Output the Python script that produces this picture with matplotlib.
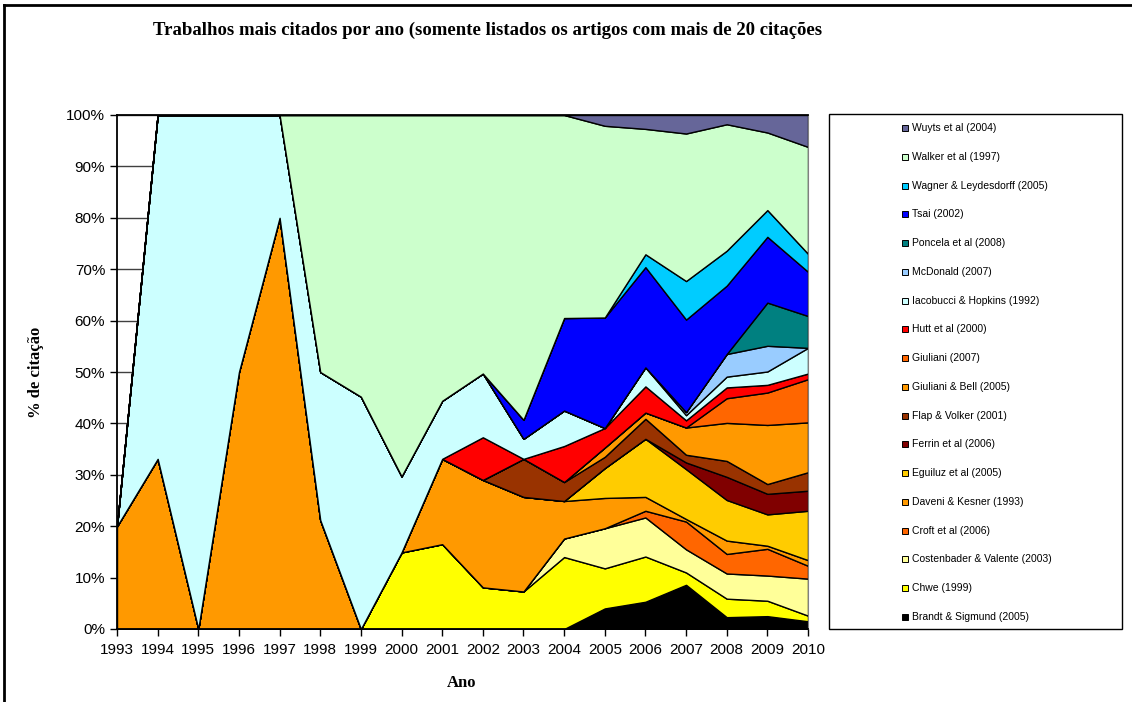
import matplotlib
matplotlib.use("Agg")
import matplotlib.pyplot as plt
from matplotlib.patches import Rectangle
from matplotlib.lines import Line2D

# years on the x axis
years = list(range(1993, 2011))

# share of citations per work (%), stacked bottom -> top
brandt      = [0, 0, 0, 0, 0, 0, 0, 0, 0, 0, 0, 0, 4.0, 5.3, 8.6, 2.3, 2.5, 1.5]
chwe        = [0, 0, 0, 0, 0, 0, 0, 14.9, 16.5, 8.1, 7.3, 14.0, 7.8, 8.8, 2.4, 3.6, 3.0, 1.1]
costenbader = [0, 0, 0, 0, 0, 0, 0, 0, 0, 0, 0, 3.6, 7.8, 7.6, 4.5, 4.9, 4.9, 7.2]
croft       = [0, 0, 0, 0, 0, 0, 0, 0, 0, 0, 0, 0, 0, 1.3, 5.4, 3.8, 5.2, 2.5]
daveni      = [20, 33.1, 0, 50, 80, 21.2, 0, 0, 16.6, 20.9, 18.4, 7.3, 5.9, 2.7, 0.5, 2.6, 0.6, 1.1]
eguiluz     = [0, 0, 0, 0, 0, 0, 0, 0, 0, 0, 0, 0, 5.8, 11.3, 9.7, 7.9, 6.1, 9.6]
ferrin      = [0, 0, 0, 0, 0, 0, 0, 0, 0, 0, 0, 0, 0, 0, 1.3, 4.5, 4.0, 3.9]
flap        = [0, 0, 0, 0, 0, 0, 0, 0, 0, 0, 7.4, 3.7, 2.2, 3.9, 1.5, 3.1, 1.9, 3.6]
giuliani_bell = [0, 0, 0, 0, 0, 0, 0, 0, 0, 0, 0, 0, 1.8, 1.2, 5.3, 7.4, 11.5, 9.7]
giuliani    = [0, 0, 0, 0, 0, 0, 0, 0, 0, 0, 0, 0, 0, 0, 0, 4.8, 6.3, 8.4]
hutt        = [0, 0, 0, 0, 0, 0, 0, 0, 0, 8.3, 0, 7.0, 3.8, 5.1, 1.4, 2.1, 1.5, 1.1]
iacobucci   = [0, 66.9, 100, 50, 20, 28.8, 45.2, 14.8, 11.3, 12.4, 3.9, 6.9, 0, 3.7, 1.0, 2.1, 2.6, 5.0]
mcdonald    = [0, 0, 0, 0, 0, 0, 0, 0, 0, 0, 0, 0, 0, 0, 0.6, 4.4, 5.0, 0]
poncela     = [0, 0, 0, 0, 0, 0, 0, 0, 0, 0, 0, 0, 0, 0, 0, 0, 8.4, 6.2]
tsai        = [0, 0, 0, 0, 0, 0, 0, 0, 0, 0, 3.7, 18.0, 21.5, 19.5, 18.0, 13.3, 12.8, 8.6]
wagner      = [0, 0, 0, 0, 0, 0, 0, 0, 0, 0, 0, 0, 0, 2.5, 7.5, 6.8, 5.2, 3.5]
walker      = [0, 0, 0, 0, 0, 50.0, 54.8, 70.3, 55.6, 50.3, 59.3, 39.5, 37.3, 24.4, 28.7, 24.6, 15.1, 20.8]
wuyts       = [0, 0, 0, 0, 0, 0, 0, 0, 0, 0, 0, 0, 2.1, 2.7, 3.6, 1.8, 3.4, 6.2]

series = [brandt, chwe, costenbader, croft, daveni, eguiluz, ferrin, flap,
          giuliani_bell, giuliani, hutt, iacobucci, mcdonald, poncela, tsai,
          wagner, walker, wuyts]
labels = ["Brandt & Sigmund (2005)", "Chwe (1999)", "Costenbader & Valente (2003)",
          "Croft et al (2006)", "Daveni & Kesner (1993)", "Eguiluz et al (2005)",
          "Ferrin et al (2006)", "Flap & Volker (2001)", "Giuliani & Bell (2005)",
          "Giuliani (2007)", "Hutt et al (2000)", "Iacobucci & Hopkins (1992)",
          "McDonald (2007)", "Poncela et al (2008)", "Tsai (2002)",
          "Wagner & Leydesdorff (2005)", "Walker et al (1997)", "Wuyts et al (2004)"]
colors = ["#000000", "#FFFF00", "#FFFF99", "#FF6600", "#FF9900", "#FFCC00",
          "#800000", "#993300", "#FF9900", "#FF6600", "#FF0000", "#CCFFFF",
          "#99CCFF", "#008080", "#0000FF", "#00CCFF", "#CCFFCC", "#666699"]

W, H = 1132, 702
fig = plt.figure(figsize=(W / 100, H / 100), dpi=100)

# chart area frame (top and left edges visible)
fig.add_artist(Line2D([4 / W, 4 / W], [0, 1 - 5 / H], color="black", lw=2))
fig.add_artist(Line2D([4 / W, 1], [1 - 5 / H, 1 - 5 / H], color="black", lw=2))

ax = fig.add_axes([117 / W, 1 - 629 / H, 691 / W, 514 / H])
ax.set_facecolor("white")
for y in range(10, 101, 10):
    ax.axhline(y, color="#404040", lw=1, zorder=0)

ax.stackplot(years, *series, colors=colors, edgecolor="black", linewidth=1, zorder=2)

ax.set_xlim(1993, 2010)
ax.set_ylim(0, 100)
ax.set_xticks(years)
ax.set_xticklabels([str(y) for y in years], fontsize=11, family="Liberation Sans")
ax.set_yticks(range(0, 101, 10))
ax.set_yticklabels([f"{v}%" for v in range(0, 101, 10)], fontsize=11, family="Liberation Sans")
ax.tick_params(direction="out", length=5, width=1, color="black")
ax.tick_params(axis="x", pad=5)
for side in ["left", "bottom", "top"]:
    ax.spines[side].set_color("black")
    ax.spines[side].set_linewidth(1.3)
ax.spines["right"].set_color("#808080")

ax.set_ylabel("% de citação", fontsize=12, fontweight="bold", family="Liberation Serif")
ax.yaxis.set_label_coords(-0.105, 0.5)
ax.set_xlabel("Ano", fontsize=12, fontweight="bold", family="Liberation Serif")
ax.xaxis.set_label_coords(0.499, -0.089)

fig.text(153 / W, 1 - 30 / H,
         "Trabalhos mais citados por ano (somente listados os artigos com mais de 20 citações",
         fontsize=13.5, fontweight="bold", family="Liberation Serif", va="center", ha="left")

# legend box, entries listed top -> bottom in reverse stacking order
fig.add_artist(Rectangle((829 / W, 1 - 629 / H), 293 / W, 515 / H, transform=fig.transFigure,
                         facecolor="white", edgecolor="black", lw=1))
n = len(labels)
for i in range(n):
    k = n - 1 - i
    yc = 128 + i * (617 - 128) / (n - 1)
    fig.add_artist(Rectangle((902 / W, 1 - (yc + 3) / H), 6 / W, 6 / H, transform=fig.transFigure,
                             facecolor=colors[k], edgecolor="black", lw=0.7))
    fig.text(912 / W, 1 - yc / H, labels[k], fontsize=7.5, family="Liberation Sans",
             va="center", ha="left")

fig.savefig("out.png", dpi=100)
